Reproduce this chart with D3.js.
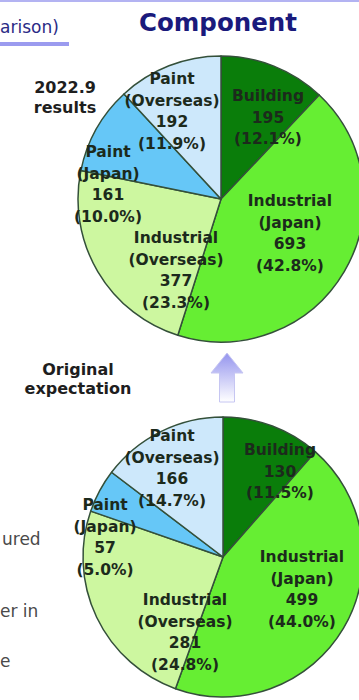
<!DOCTYPE html>
<html>
<head>
<meta charset="utf-8">
<script src="https://cdn.jsdelivr.net/npm/d3@7"></script>
<style>
  html, body { margin: 0; padding: 0; background: #fff; overflow: hidden; }
  svg { display: block; }
</style>
</head>
<body>
<svg id="chart" width="359" height="700"></svg>
<script>
// Sales by component (clockwise from 12 o'clock)
const segments = ["Building", "Industrial (Japan)", "Industrial (Overseas)", "Paint (Japan)", "Paint (Overseas)"];
const labelLines = [
  ["Building"],
  ["Industrial", "(Japan)"],
  ["Industrial", "(Overseas)"],
  ["Paint", "(Japan)"],
  ["Paint", "(Overseas)"]
];
const results2022 = [195, 693, 377, 161, 192];
const resultsShare = ["12.1%", "42.8%", "23.3%", "10.0%", "11.9%"];
const original = [130, 499, 281, 57, 166];
const originalShare = ["11.5%", "44.0%", "24.8%", "5.0%", "14.7%"];

const colors = ["#0a7d0a", "#66ee33", "#cdf7a0", "#66c7f7", "#cde8fb"];

const svg = d3.select("#chart");
const font = "'DejaVu Sans', Verdana, sans-serif";

// slide frame: top rule, heading and its underline
svg.append("rect").attr("x", 0).attr("y", 0).attr("width", 359).attr("height", 2).attr("fill", "#b3b3f2");
svg.append("text").attr("x", 0).attr("y", 33).attr("font-family", font).attr("font-size", 17)
  .attr("fill", "#2b2b86").text("arison)");
svg.append("rect").attr("x", 0).attr("y", 42).attr("width", 69).attr("height", 4).attr("fill", "#9b9bef");

svg.append("text").attr("x", 218).attr("y", 31).attr("text-anchor", "middle")
  .attr("font-family", font).attr("font-size", 24.5).attr("font-weight", "bold")
  .attr("fill", "#1a1a7c").text("Component");

// side captions
function caption(lines, x, y0, dy) {
  const t = svg.append("text").attr("text-anchor", "middle").attr("font-family", font)
    .attr("font-size", 16).attr("font-weight", "bold").attr("fill", "#1e1e1e");
  lines.forEach((s, i) => t.append("tspan").attr("x", x).attr("y", y0 + i * dy).text(s));
}
caption(["2022.9", "results"], 65, 93, 20);
caption(["Original", "expectation"], 78, 375, 19);

// left-column body text
const bodyFragments = ["ured", "er in", "e"];
const bodyY = [545, 617, 667];
bodyFragments.forEach((s, i) => {
  svg.append("text").attr("x", i === 0 ? 2 : 0).attr("y", bodyY[i]).attr("font-family", font)
    .attr("font-size", 17).attr("fill", "#4a4a4a").text(s);
});

// up arrow from the original expectation to the results
const grad = svg.append("defs").append("linearGradient").attr("id", "arrowGrad")
  .attr("x1", 0).attr("y1", 0).attr("x2", 0).attr("y2", 1);
grad.append("stop").attr("offset", "0%").attr("stop-color", "#9494ee");
grad.append("stop").attr("offset", "100%").attr("stop-color", "#ffffff");
const ax = 227, aTop = 353, aHead = 373, aBot = 402, hw = 16, sw = 7.5;
svg.append("path")
  .attr("d", `M${ax},${aTop} L${ax + hw},${aHead} L${ax + sw},${aHead} L${ax + sw},${aBot} L${ax - sw},${aBot} L${ax - sw},${aHead} L${ax - hw},${aHead} Z`)
  .attr("fill", "url(#arrowGrad)").attr("stroke", "#c6c6f2").attr("stroke-width", 1);

// label anchors (centre x, first baseline) relative to each pie centre
const topLabelPos = [[47, -98], [69, 7], [-45, 44], [-113, -42], [-49, -115]];
const bottomLabelPos = [[57, -102], [79, 5], [-38, 48], [-118, -47], [-51, -116]];

const pie = d3.pie().sort(null).value(d => d);

function drawPie(values, shares, cx, cy, r, labelPos) {
  const g = svg.append("g").attr("transform", `translate(${cx},${cy})`);
  const arc = d3.arc().innerRadius(0).outerRadius(r);
  g.selectAll("path").data(pie(values)).join("path")
    .attr("d", arc)
    .attr("fill", (d, i) => colors[i])
    .attr("stroke", "#34503a").attr("stroke-width", 1.5).attr("stroke-linejoin", "round");

  values.forEach((v, i) => {
    const lines = labelLines[i].concat([String(v), `(${shares[i]})`]);
    const t = g.append("text").attr("text-anchor", "middle").attr("font-family", font)
      .attr("font-size", 15.5).attr("font-weight", "bold").attr("fill", "#1c2a1c");
    lines.forEach((s, k) => t.append("tspan")
      .attr("x", labelPos[i][0]).attr("y", labelPos[i][1] + k * 21.5).text(s));
  });
}

drawPie(results2022, resultsShare, 221, 199, 143, topLabelPos);
drawPie(original, originalShare, 223, 557, 140, bottomLabelPos);
</script>
</body>
</html>
